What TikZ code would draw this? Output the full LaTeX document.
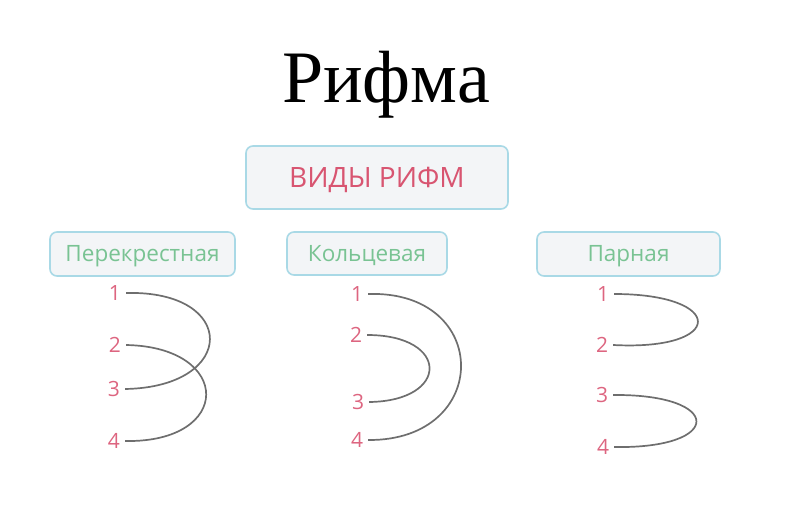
\documentclass[tikz,border=0pt]{standalone}
\usepackage{fontspec}
\setmainfont{Liberation Serif}
\newfontfamily\uifont{Open Sans}
\definecolor{boxfill}{HTML}{F3F5F7}
\definecolor{boxline}{HTML}{A9D9E6}
\definecolor{pinktext}{HTML}{D85571}
\definecolor{numpink}{HTML}{DD6580}
\definecolor{greentext}{HTML}{79C393}
\definecolor{curvegray}{HTML}{6E6E6E}
\begin{document}
\begin{tikzpicture}[x=1pt,y=-1pt,
  catbox/.style={draw=boxline, line width=1.6pt, fill=boxfill, rounded corners=7pt, inner sep=0pt, text depth=0pt},
  labelfont/.style={text=greentext, font=\uifont\fontsize{22.5}{22.5}\selectfont, text height=15.5pt},
  num/.style={font=\uifont\fontsize{21}{21}\selectfont, text=numpink, inner sep=1pt, anchor=center},
  rhyme/.style={draw=curvegray, line width=1.7pt}
]
\useasboundingbox (0,0) rectangle (797,510);
\node[font=\fontsize{74}{74}\selectfont, anchor=base] (title) at (386,103) {Рифма};

\node[catbox, minimum width=262pt, minimum height=63pt, text=pinktext, font=\uifont\fontsize{28}{28}\selectfont, text height=19.5pt] (kinds) at (377,177.5) {ВИДЫ РИФМ};

\node[catbox, labelfont, minimum width=185pt, minimum height=44pt] (cross) at (142.5,254) {Перекрестная};
\node[catbox, labelfont, minimum width=160pt, minimum height=43pt] (ring) at (367,253.5) {Кольцевая};
\node[catbox, labelfont, minimum width=183pt, minimum height=44pt] (pair) at (628.5,254) {Парная};

% Left column
\node[num] (a1) at (115,293) {1};
\node[num] (a2) at (115,345) {2};
\node[num] (a3) at (114,389) {3};
\node[num] (a4) at (114,441) {4};
\draw[rhyme] ([xshift=4pt]a1.east) .. controls (238,290) and (238,387) .. ([xshift=4pt]a3.east);
\draw[rhyme] ([xshift=4pt]a2.east) .. controls (233,347) and (233,443) .. ([xshift=4pt]a4.east);

% Middle column
\node[num] (b1) at (357,294) {1};
\node[num] (b2) at (356,335) {2};
\node[num] (b3) at (358,402) {3};
\node[num] (b4) at (357,440) {4};
\draw[rhyme] ([xshift=4pt]b1.east) .. controls (492,290) and (492,441) .. ([xshift=4pt]b4.east);
\draw[rhyme] ([xshift=4pt]b2.east) .. controls (450,335) and (450,401) .. ([xshift=4pt]b3.east);

% Right column
\node[num] (c1) at (603,294) {1};
\node[num] (c2) at (602,345) {2};
\node[num] (c3) at (602,395) {3};
\node[num] (c4) at (603,447) {4};
\draw[rhyme] ([xshift=4pt]c1.east) .. controls (726,294) and (726,351) .. ([xshift=4pt]c2.east);
\draw[rhyme] ([xshift=4pt]c3.east) .. controls (724,394) and (724,449) .. ([xshift=4pt]c4.east);
\end{tikzpicture}
\end{document}
